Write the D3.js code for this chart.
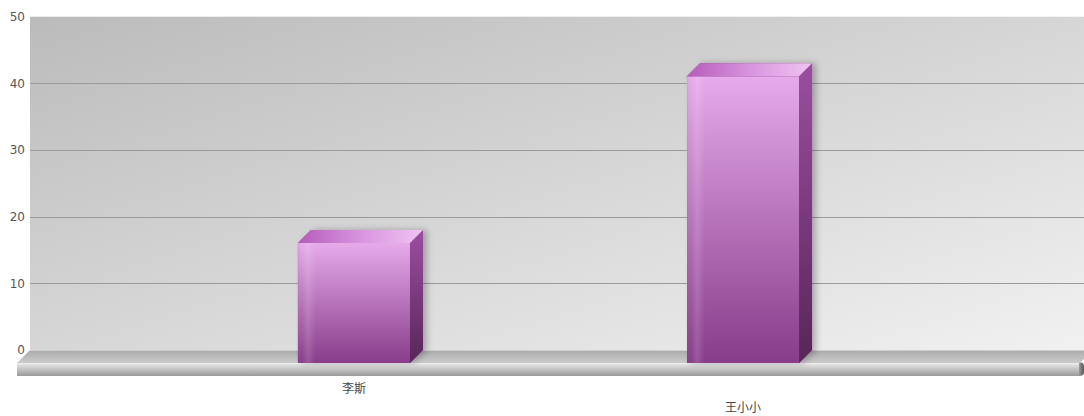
<!DOCTYPE html>
<html>
<head>
<meta charset="utf-8">
<script src="https://cdn.jsdelivr.net/npm/d3@7"></script>
<style>
  html, body { margin: 0; padding: 0; background: #ffffff; }
  svg { display: block; }
</style>
</head>
<body>
<svg id="chart" width="1084" height="416"></svg>
<script>
// Chart data
const categories = ["李斯", "王小小"];
const values = [18, 43];
const yTicks = [0, 10, 20, 30, 40, 50];

const W = 1084, H = 416;
const depth = 13;               // 3D depth offset (x right, y up for the back plane)
const wall = { left: 30, right: 1084, top: 16.7, bottom: 350 };

const svg = d3.select("#chart");
const defs = svg.append("defs");

function linGrad(id, x1, y1, x2, y2, stops) {
  const g = defs.append("linearGradient").attr("id", id)
    .attr("x1", x1).attr("y1", y1).attr("x2", x2).attr("y2", y2);
  stops.forEach(([o, c]) => g.append("stop").attr("offset", o).attr("stop-color", c));
}
linGrad("wallGrad", "0%", "0%", "100%", "100%", [[0, "#bbbbbb"], [0.5, "#d6d6d6"], [1, "#f1f1f1"]]);
linGrad("floorTop", "0%", "0%", "0%", "100%", [[0, "#e2e2e2"], [0.1, "#adadad"], [1, "#cbcbcb"]]);
linGrad("floorFront", "0%", "0%", "0%", "100%", [[0, "#f0f0f0"], [0.15, "#dedede"], [1, "#999999"]]);
linGrad("barFront", "0%", "0%", "0%", "100%", [[0, "#e6aaea"], [1, "#883c8a"]]);
linGrad("barFrontSheen", "0%", "0%", "100%", "0%", [[0, "rgba(120,40,120,0.12)"], [0.03, "rgba(255,255,255,0)"], [0.09, "rgba(255,255,255,0.14)"], [0.16, "rgba(255,255,255,0)"], [1, "rgba(0,0,0,0)"]]);
linGrad("barSide", "0%", "0%", "0%", "100%", [[0, "#9c4ea0"], [1, "#572659"]]);
linGrad("barTop", "0%", "0%", "100%", "0%", [[0, "#b55cbb"], [0.5, "#d894de"], [1, "#f0c4f2"]]);
linGrad("floorCap", "0%", "0%", "100%", "0%", [[0, "#9a9a9a"], [1, "#555555"]]);

const shadow = defs.append("filter").attr("id", "barShadow")
  .attr("x", "-20%").attr("y", "-10%").attr("width", "150%").attr("height", "130%");
shadow.append("feDropShadow").attr("dx", 4).attr("dy", 0).attr("stdDeviation", 3)
  .attr("flood-color", "#000").attr("flood-opacity", 0.25);

// Scales: back wall and front plane share the value scale, offset by depth
const y = d3.scaleLinear().domain([0, 50]).range([wall.bottom, wall.top]);
const yFront = v => y(v) + depth;
const x = d3.scaleBand().domain(categories).range([wall.left - depth, W - 4])
  .paddingInner(0.712).paddingOuter(0.722);

// Back wall
svg.append("rect")
  .attr("x", wall.left).attr("y", wall.top)
  .attr("width", wall.right - wall.left).attr("height", wall.bottom - wall.top)
  .attr("fill", "url(#wallGrad)");

// Gridlines on the back wall
svg.append("g").selectAll("line")
  .data(yTicks.filter(t => t > 0 && t < 50))
  .join("line")
  .attr("x1", wall.left).attr("x2", wall.right)
  .attr("y1", d => Math.round(y(d)) + 0.5).attr("y2", d => Math.round(y(d)) + 0.5)
  .attr("stroke", "#9a9a9a").attr("stroke-width", 1);

// Floor slab
const fx0 = wall.left - depth, fx1 = W - 4;
const fy0 = wall.bottom + depth;
svg.append("path")
  .attr("d", `M${wall.left},${wall.bottom} L${fx1 + depth},${wall.bottom} L${fx1},${fy0} L${fx0},${fy0} Z`)
  .attr("fill", "url(#floorTop)");
svg.append("path")
  .attr("d", `M${fx0},${fy0} L${fx1},${fy0} L${fx1},${fy0 + 13} L${fx0},${fy0 + 13} Z`)
  .attr("fill", "url(#floorFront)");
svg.append("path")
  .attr("d", `M${fx1 - 1},${fy0} Q${fx1 + 4},${fy0 - 2} ${fx1 + 4},${fy0 + 4} L${fx1 + 4},${fy0 + 9} Q${fx1 + 4},${fy0 + 13} ${fx1 - 1},${fy0 + 13} Z`)
  .attr("fill", "url(#floorCap)");

// Bars
const bars = svg.append("g").selectAll("g.bar")
  .data(categories.map((c, i) => ({ c, v: values[i] })))
  .join("g").attr("class", "bar");

bars.append("path") // shadow caster
  .attr("d", d => {
    const x0 = x(d.c), x1 = x0 + x.bandwidth();
    return `M${x0},${yFront(d.v)} L${x0 + depth},${y(d.v)} L${x1 + depth},${y(d.v)} L${x1 + depth},${y(0)} L${x1},${yFront(0)} L${x0},${yFront(0)} Z`;
  })
  .attr("fill", "#8a3e8c").attr("filter", "url(#barShadow)");

bars.append("rect") // front face
  .attr("x", d => x(d.c)).attr("y", d => yFront(d.v))
  .attr("width", x.bandwidth()).attr("height", d => yFront(0) - yFront(d.v))
  .attr("fill", "url(#barFront)");
bars.append("rect")
  .attr("x", d => x(d.c)).attr("y", d => yFront(d.v))
  .attr("width", x.bandwidth()).attr("height", d => yFront(0) - yFront(d.v))
  .attr("fill", "url(#barFrontSheen)");

bars.append("path") // side face
  .attr("d", d => {
    const x1 = x(d.c) + x.bandwidth();
    return `M${x1},${yFront(d.v)} L${x1 + depth},${y(d.v)} L${x1 + depth},${y(0)} L${x1},${yFront(0)} Z`;
  })
  .attr("fill", "url(#barSide)");

bars.append("path") // top face
  .attr("d", d => {
    const x0 = x(d.c), x1 = x0 + x.bandwidth();
    return `M${x0},${yFront(d.v)} L${x1},${yFront(d.v)} L${x1 + depth},${y(d.v)} L${x0 + depth},${y(d.v)} Z`;
  })
  .attr("fill", "url(#barTop)");

// Value axis labels
const yAxis = svg.append("g")
  .attr("transform", `translate(${wall.left - 4},0)`)
  .call(d3.axisLeft(y).tickValues(yTicks).tickSize(0).tickPadding(1));
yAxis.select(".domain").remove();
yAxis.selectAll("text")
  .attr("font-family", "Verdana, 'DejaVu Sans', sans-serif")
  .attr("font-size", 12).attr("fill", "#555");

// Category labels, staggered over two rows
const xAxis = svg.append("g")
  .attr("transform", `translate(0,${fy0 + 13})`)
  .call(d3.axisBottom(x).tickSize(0).tickPadding(0));
xAxis.select(".domain").remove();
xAxis.selectAll("text")
  .attr("font-family", "'Noto Sans CJK SC', sans-serif")
  .attr("font-size", 12).attr("fill", "#444")
  .attr("dy", (d, i) => i % 2 === 0 ? "0.75em" : "2.35em")
  .attr("y", 8);
</script>
</body>
</html>
